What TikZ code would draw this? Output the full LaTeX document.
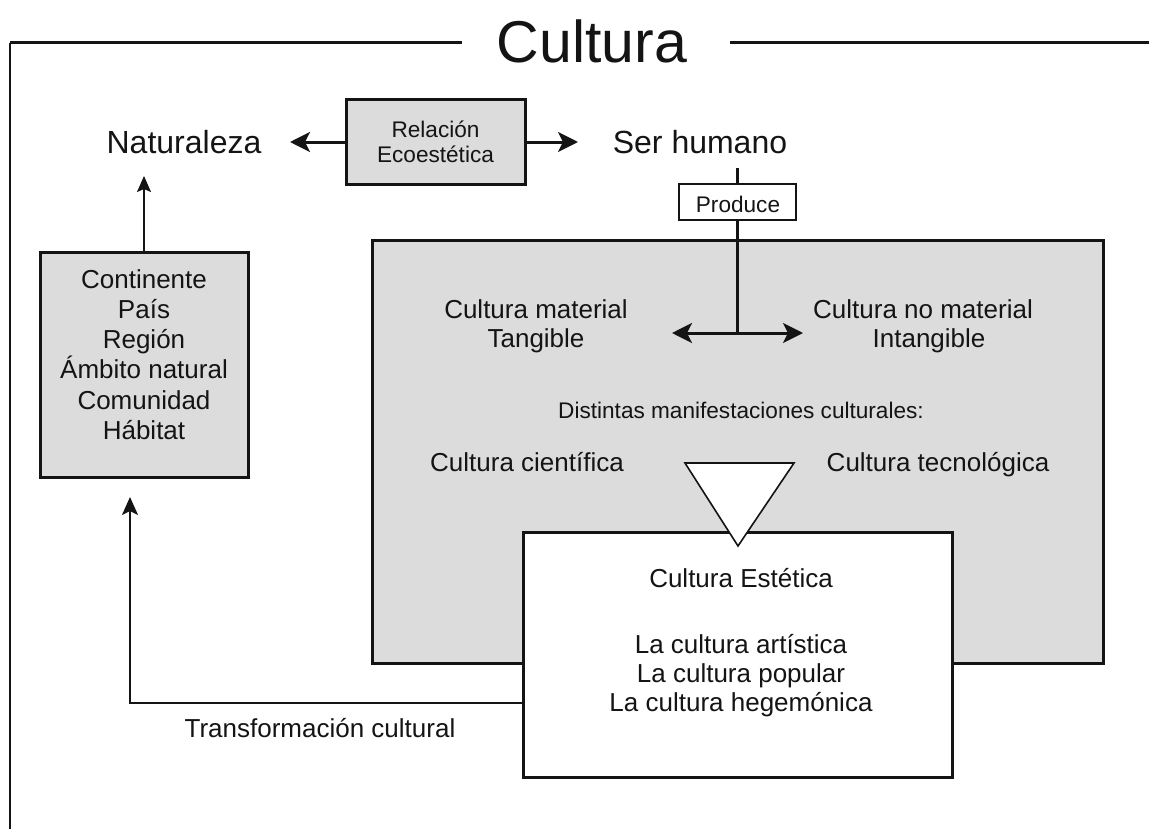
\documentclass[tikz,border=0pt]{standalone}
\usepackage{fontspec}
\setmainfont{Liberation Sans}
\usetikzlibrary{arrows.meta}
\definecolor{boxgray}{RGB}{220,220,220}
\definecolor{ink}{RGB}{20,20,20}
\begin{document}
\begin{tikzpicture}[x=0.5pt,y=-0.5pt,
  box/.style={draw=ink, line width=1.5pt, fill=boxgray, inner sep=0pt},
  whitebox/.style={box, fill=white},
  txt/.style={inner sep=0pt, anchor=base, text=ink, font=\fontsize{13}{15}\selectfont},
  bigtxt/.style={txt, font=\fontsize{16}{18}\selectfont},
  smalltxt/.style={txt, font=\fontsize{11.3}{13}\selectfont},
  bigtip/.tip={Stealth[length=10pt,width=10pt,inset=2.5pt]},
  thickarrow/.style={draw=ink, line width=1.5pt, -bigtip},
  thinarrow/.style={draw=ink, line width=0.8pt, -{Stealth[length=8pt,width=7pt,inset=1.5pt]}},
  dblarrow/.style={draw=ink, line width=1.5pt, bigtip-bigtip},
  plainline/.style={draw=ink, line width=1.5pt}
]
\useasboundingbox (0,0) rectangle (1149,829);

% frame and title
\node[txt, font=\fontsize{29.5}{31}\selectfont] (titulo) at (592,63) {Cultura};
\coordinate (fbl) at (10,829);
\coordinate (ftl) at (10,43);
\coordinate (fl) at (462,43);
\coordinate (fr) at (730,43);
\coordinate (fre) at (1149,43);
\draw[draw=ink, line width=1pt] (fbl) -- (ftl);
\draw[plainline] (ftl) -- (fl);
\draw[plainline] (fr) -- (fre);

% boxes
\node[box, minimum width=104pt, minimum height=112.5pt] (lugar) at (144,364.5) {};
\node[box, minimum width=89.5pt, minimum height=42pt] (rel) at (435.5,142) {};
\node[whitebox, line width=1pt, minimum width=58.5pt, minimum height=18pt] (prod) at (737.5,202) {};
\node[box, minimum width=365.5pt, minimum height=211.5pt] (ambito) at (737.5,451.5) {};
\node[whitebox, minimum width=214.5pt, minimum height=122.5pt] (est) at (738,654.5) {};
\draw[draw=ink, fill=white, line width=0.8pt] (685,463) -- (794,463) -- (738,546) -- cycle;

% texts
\node[bigtxt] (nat) at (184,153) {Naturaleza};
\node[bigtxt] (ser) at (700,153) {Ser humano};
\node[smalltxt] (rel1) at (435.5,137) {Relación};
\node[smalltxt] (rel2) at (435.5,162) {Ecoestética};
\node[smalltxt] (prodt) at (738,212) {Produce};

\node[txt] (l1) at (144,288) {Continente};
\node[txt] (l2) at (144,318) {País};
\node[txt] (l3) at (144,348.5) {Región};
\node[txt] (l4) at (144,378.5) {Ámbito natural};
\node[txt] (l5) at (144,409) {Comunidad};
\node[txt] (l6) at (144,439) {Hábitat};

\node[txt] (mat1) at (536,318) {Cultura material};
\node[txt] (mat2) at (536,347) {Tangible};
\node[txt] (nmat1) at (923,318) {Cultura no material};
\node[txt] (nmat2) at (929,347) {Intangible};
\node[smalltxt] (dist) at (741,418) {Distintas manifestaciones culturales:};
\node[txt] (cien) at (527,471) {Cultura científica};
\node[txt] (tec) at (938,471) {Cultura tecnológica};

\node[txt] (e0) at (741,587) {Cultura Estética};
\node[txt] (e1) at (741,653) {La cultura artística};
\node[txt] (e2) at (741,682) {La cultura popular};
\node[txt] (e3) at (741,711) {La cultura hegemónica};
\node[txt] (trans) at (320,737) {Transformación cultural};

% connectors
\coordinate (natend) at (290,142);
\coordinate (serend) at (578,142);
\draw[thickarrow] (rel.west) -- (natend);
\draw[thickarrow] (rel.east) -- (serend);

\coordinate (natup) at (144,176);
\draw[thinarrow] (lugar.north) -- (natup);

\coordinate (sertop) at (737.5,168);
\coordinate (split) at (737.5,333);
\coordinate (izq) at (672,333);
\coordinate (der) at (803,333);
\draw[plainline] (sertop) -- (prod.north);
\draw[plainline] (prod.south) -- (split);
\draw[dblarrow] (izq) -- (der);

\coordinate (tcorner) at (130,703);
\coordinate (tend) at (130,497);
\draw[draw=ink, line width=1pt, -{Stealth[length=9pt,width=8pt,inset=2pt]}] (est.west |- tcorner) -- (tcorner) -- (tend);
\end{tikzpicture}
\end{document}
